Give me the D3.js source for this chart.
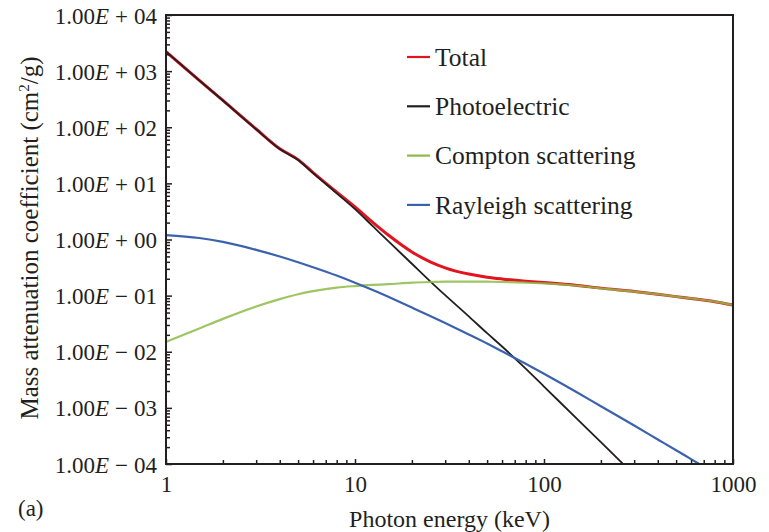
<!DOCTYPE html>
<html>
<head>
<meta charset="utf-8">
<script src="https://cdn.jsdelivr.net/npm/d3@7"></script>
<style>
body { margin: 0; background: #fff; }
text { font-family: "Liberation Serif", "DejaVu Serif", serif; fill: #231f20; }
</style>
</head>
<body>
<svg id="vis" width="769" height="532"></svg>
<script>
// photon energy (keV) sample points, shared by all series
var energy = [1, 1.5, 2, 3, 4, 5, 6, 8, 10, 12.5, 15, 20, 25, 30, 40, 50, 60, 80, 100, 150, 200, 300, 400, 500, 600, 800, 1000];

// mass attenuation coefficients (cm2/g)
var total = [2220, 687, 300, 93, 41.5, 26.5, 15.6, 7.0, 3.8, 1.98, 1.2, 0.6, 0.4, 0.313, 0.242, 0.213, 0.198, 0.181, 0.171, 0.152, 0.136, 0.119, 0.106, 0.096, 0.089, 0.078, 0.068];
var photoelectric = [2220, 686, 299, 92, 40.8, 26, 15.2, 6.65, 3.48, 1.69, 0.935, 0.37, 0.18, 0.102, 0.0427, 0.0214, 0.0124, 0.005, 0.0024, 0.00063, 0.000245, 0.000064, null, null, null, null, null];
var compton = [0.015, 0.026, 0.0385, 0.064, 0.0867, 0.106, 0.12, 0.139, 0.148, 0.155, 0.16, 0.17, 0.175, 0.178, 0.178, 0.177, 0.175, 0.17, 0.165, 0.15, 0.135, 0.118, 0.106, 0.096, 0.089, 0.078, 0.068];
var rayleigh = [1.2, 1.062, 0.906, 0.655, 0.498, 0.394, 0.321, 0.228, 0.170, 0.1245, 0.0951, 0.0612, 0.0433, 0.0324, 0.0203, 0.014, 0.0102, 0.00612, 0.00406, 0.00188, 0.00107, 0.000485, 0.000274, 0.000176, 0.000122, 0.0000687, null];

var xTicks = [1, 10, 100, 1000];
var yTicks = [1e-4, 1e-3, 1e-2, 1e-1, 1e0, 1e1, 1e2, 1e3, 1e4];

var seriesNames = ["Total", "Photoelectric", "Compton scattering", "Rayleigh scattering"];
var seriesValues = [total, photoelectric, compton, rayleigh];
var seriesColors = ["#e2141f", "#231f20", "#8dbb47", "#3b63ad"];
var seriesWidths = [3, 1.8, 2.2, 2.2];
var seriesOpacity = [1, 1, 0.85, 1];

var plot = { left: 166, right: 733, top: 15, bottom: 464 };

var svg = d3.select("#vis");

var xScale = d3.scaleLog()
    .domain([1, 1000])
    .range([plot.left, plot.right]);

var yScale = d3.scaleLog()
    .domain([1e-4, 1e4])
    .range([plot.bottom, plot.top]);

// minor ticks 2..9 in every decade
var minorX = [];
[1, 10, 100].forEach(function(d) {
    for (var k = 2; k <= 9; k++) minorX.push(d * k);
});
var minorY = [];
yTicks.slice(0, -1).forEach(function(d) {
    for (var k = 2; k <= 9; k++) minorY.push(d * k);
});

// tick label like 1.00E + 03
var expLabel = function(sel) {
    sel.each(function(d) {
        var e = Math.round(Math.log10(d));
        var t = d3.select(this).text(null);
        t.append("tspan").text("1.00");
        t.append("tspan").attr("font-style", "italic").text("E");
        t.append("tspan").attr("dx", 6).text(e < 0 ? "\u2212" : "+");
        t.append("tspan").attr("dx", 6).text(d3.format("02")(Math.abs(e)));
    });
};

// clip for the curves
svg.append("clipPath")
    .attr("id", "plotClip")
    .append("rect")
    .attr("x", plot.left)
    .attr("y", plot.top)
    .attr("width", plot.right - plot.left)
    .attr("height", plot.bottom - plot.top);

var line = d3.line()
    .defined(function(d) { return d[1] != null; })
    .x(function(d) { return xScale(d[0]); })
    .y(function(d) { return yScale(d[1]); })
    .curve(d3.curveMonotoneX);

var curves = svg.append("g").attr("clip-path", "url(#plotClip)");

seriesValues.forEach(function(vals, i) {
    var pts = energy.map(function(e, j) { return [e, vals[j]]; });
    curves.append("path")
        .datum(pts)
        .attr("fill", "none")
        .attr("stroke", seriesColors[i])
        .attr("stroke-width", seriesWidths[i])
        .attr("stroke-opacity", seriesOpacity[i])
        .attr("stroke-linejoin", "round")
        .attr("d", line);
});

// axes
var xAxis = svg.append("g")
    .attr("transform", "translate(0," + plot.bottom + ")")
    .call(d3.axisBottom(xScale).tickValues(xTicks).tickFormat(d3.format("d")).tickSize(-5).tickPadding(12));
svg.append("g")
    .attr("transform", "translate(0," + plot.bottom + ")")
    .call(d3.axisBottom(xScale).tickValues(minorX).tickFormat("").tickSize(-4));

var yAxis = svg.append("g")
    .attr("transform", "translate(" + plot.left + ",0)")
    .call(d3.axisLeft(yScale).tickValues(yTicks).tickSize(-6).tickPadding(9));
svg.append("g")
    .attr("transform", "translate(" + plot.left + ",0)")
    .call(d3.axisLeft(yScale).tickValues(minorY).tickFormat("").tickSize(-4));

yAxis.selectAll(".tick text").call(expLabel);

svg.selectAll(".domain").remove();
svg.selectAll(".tick line")
    .attr("stroke", "#231f20")
    .attr("stroke-width", 1.5);
svg.selectAll(".tick text")
    .attr("font-family", "Liberation Serif, serif")
    .attr("font-size", 23)
    .attr("fill", "#231f20");
yAxis.selectAll(".tick text").attr("dy", "0.35em");

// frame
svg.append("rect")
    .attr("x", plot.left)
    .attr("y", plot.top)
    .attr("width", plot.right - plot.left)
    .attr("height", plot.bottom - plot.top)
    .attr("fill", "none")
    .attr("stroke", "#231f20")
    .attr("stroke-width", 2);

// legend
var legend = svg.append("g")
    .selectAll("g")
    .data(seriesNames)
    .enter()
    .append("g")
    .attr("transform", function(d, i) { return "translate(407," + (57 + i * 49.3) + ")"; });

legend.append("line")
    .attr("x1", 0)
    .attr("x2", 23)
    .attr("stroke", function(d, i) { return seriesColors[i]; })
    .attr("stroke-width", 2.2);

legend.append("text")
    .attr("x", 28)
    .attr("dy", "0.34em")
    .attr("font-size", 25.5)
    .text(function(d) { return d; });

// axis titles
svg.append("text")
    .attr("x", (plot.left + plot.right) / 2)
    .attr("y", 527)
    .attr("text-anchor", "middle")
    .attr("font-size", 24)
    .text("Photon energy (keV)");

var yTitle = svg.append("text")
    .attr("transform", "translate(38,238) rotate(-90)")
    .attr("text-anchor", "middle")
    .attr("font-size", 25);
yTitle.append("tspan").text("Mass attenuation coefficient (cm");
yTitle.append("tspan").attr("font-size", 15).attr("dy", -9).text("2");
yTitle.append("tspan").attr("dy", 9).text("/g)");

svg.append("text")
    .attr("x", 18)
    .attr("y", 516)
    .attr("font-size", 23)
    .text("(a)");
</script>
</body>
</html>
